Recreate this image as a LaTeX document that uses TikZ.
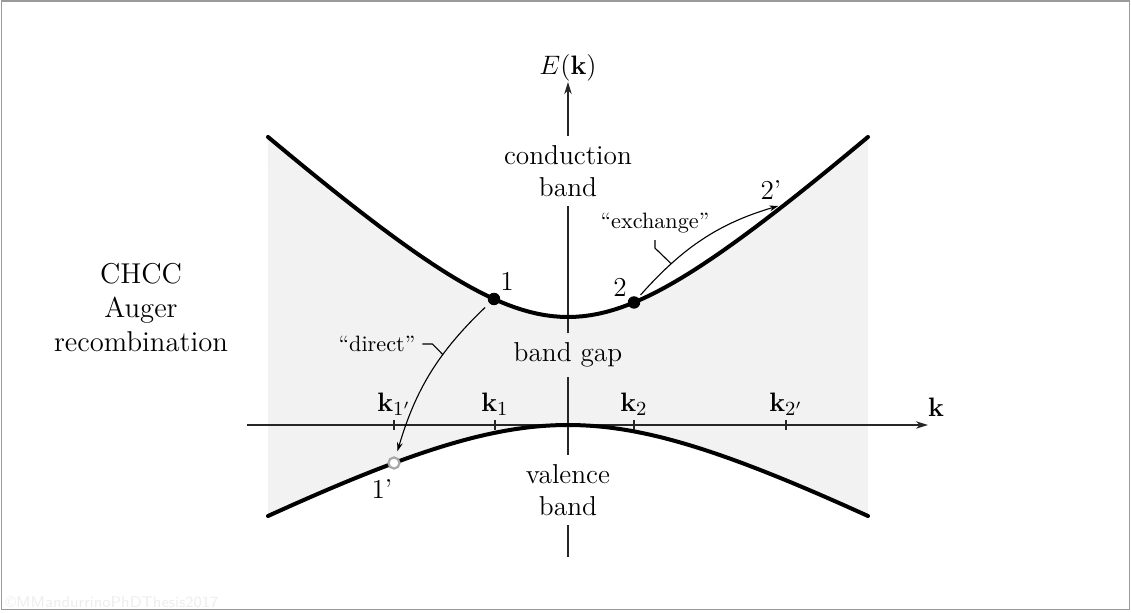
\documentclass[tikz,border=0pt]{standalone}
\usepackage{amsmath}
\usetikzlibrary{arrows.meta, positioning, calc}
\definecolor{gapfill}{HTML}{F2F2F2}
\definecolor{framegrey}{HTML}{9A9A9A}
\definecolor{markgrey}{HTML}{EDEDED}
\definecolor{holegrey}{HTML}{A8A8A8}
\tikzset{
  font=\fontsize{12.3pt}{14.6pt}\selectfont,
  >={Stealth[length=5.5pt, width=3.4pt]},
  %
  bandline/.style={line width=1.8pt, line cap=round},
  axisline/.style={draw=black!85, line width=0.6pt},
  tick/.style={draw=black!85, line width=0.5pt},
  %
  electron/.style={circle, fill=black, inner sep=0pt, minimum size=5.6pt},
  hole/.style={circle, draw=holegrey, line width=1pt, fill=white,
               inner sep=0pt, minimum size=5pt},
  %
  kick/.style={line width=0.5pt, ->, >={Stealth[length=4pt, width=2.6pt]}},
  pinline/.style={line width=0.5pt},
  quote/.style={font=\normalsize, inner sep=3pt},
  lbl/.style={inner sep=2pt},
  txt/.style={align=center, inner sep=4pt},
}

\begin{document}
\begin{tikzpicture}[x=45pt, y=45pt,
  declare function={
    Ec(\k)=1.08+sqrt(1.3666+0.828*\k*\k)-1.169;
    Ev(\k)=0.908-sqrt(0.8245+0.2757*\k*\k);
  }]

  \useasboundingbox (-5.68,-1.88) rectangle (5.63,4.25);
  \draw[framegrey, line width=0.6pt] (-5.665,4.24) rectangle (5.615,-1.845);
  \node[anchor=south west, text=markgrey, font=\sffamily\scriptsize, inner sep=0pt]
    (mark) at (-5.63,-1.83) {\textcopyright MMandurrinoPhDThesis2017};

  % ---- gap region -------------------------------------------------------
  \fill[gapfill] plot[domain=-3:3, samples=61] (\x,{Ec(\x)})
    -- plot[domain=3:-3, samples=61] (\x,{Ev(\x)}) -- cycle;

  % ---- axes -------------------------------------------------------------
  \draw[axisline, ->] (-3.21,0) -- (3.60,0) coordinate (kend);
  \node (klbl) at (3.68,0.18) {$\mathbf{k}$};

  \node[txt] (cb)  at (0,2.54)  {conduction\\band};
  \node[txt] (gap) at (0,0.70)  {band gap};
  \node[txt] (vb)  at (0,-0.65) {valence\\band};
  \coordinate (ebot) at (0,-1.32);
  \coordinate (etop) at (0,3.43);
  \node[above=-3pt] (elbl) at (etop) {$E(\mathbf{k})$};

  \draw[axisline] (ebot) -- (vb.south);
  \draw[axisline] (vb.north) -- (gap.south);
  \draw[axisline] (gap.north) -- (cb.south);
  \draw[axisline, ->] (cb.north) -- (etop);

  \foreach \x/\t/\n in {-1.74/{1'}/ka, -0.73/1/kb, 0.66/2/kc, 2.18/{2'}/kd} {
    \draw[tick] (\x,-0.05) -- (\x,0.05);
    \node (\n) at (\x,0.21) {$\mathbf{k}_{\t}$};
  }

  % ---- bands ------------------------------------------------------------
  \draw[bandline] plot[domain=-3:3, samples=81] (\x,{Ec(\x)});
  \draw[bandline] plot[domain=-3:3, samples=81] (\x,{Ev(\x)});

  % ---- carriers ---------------------------------------------------------
  \node[electron] (p1)  at (-0.74,{Ec(-0.74)}) {};
  \node[electron] (p2)  at (0.66,{Ec(0.66)})   {};
  \node[hole]     (p1x) at (-1.74,{Ev(-1.74)}) {};
  \coordinate     (p2x) at (2.18,{Ec(2.18)});

  \node[lbl] (n1)  at (-0.61,1.44) {1};
  \node[lbl] (n2)  at (0.52,1.38)  {2};
  \node[lbl] (n1x) at (-1.86,-0.64) {1'};
  \node[lbl] (n2x) at (2.03,2.35)  {2'};

  % ---- transitions ------------------------------------------------------
  \draw[kick, shorten <=2.5pt, shorten >=2.5pt]
    (p1) to[bend right=15] coordinate[pos=0.37] (da) (p1x);
  \draw[kick, shorten <=1.5pt, shorten >=3.6pt]
    (p2) to[bend left=16] coordinate[pos=0.25] (xa) (p2x);

  \node[quote] (dir)  at (-1.91,0.81) {``direct''};
  \node[quote] (exch) at (0.87,2.02)  {``exchange''};
  \draw[pinline] (dir.east) -- ++(0.1,0) -- (da);
  \draw[pinline] (exch.south) -- ++(0,-0.08) -- (xa);

  \node[align=center, font=\fontsize{12.9pt}{15.3pt}\selectfont] (chcc)
    at (-4.27,1.17) {CHCC\\Auger\\recombination};

\end{tikzpicture}
\end{document}
